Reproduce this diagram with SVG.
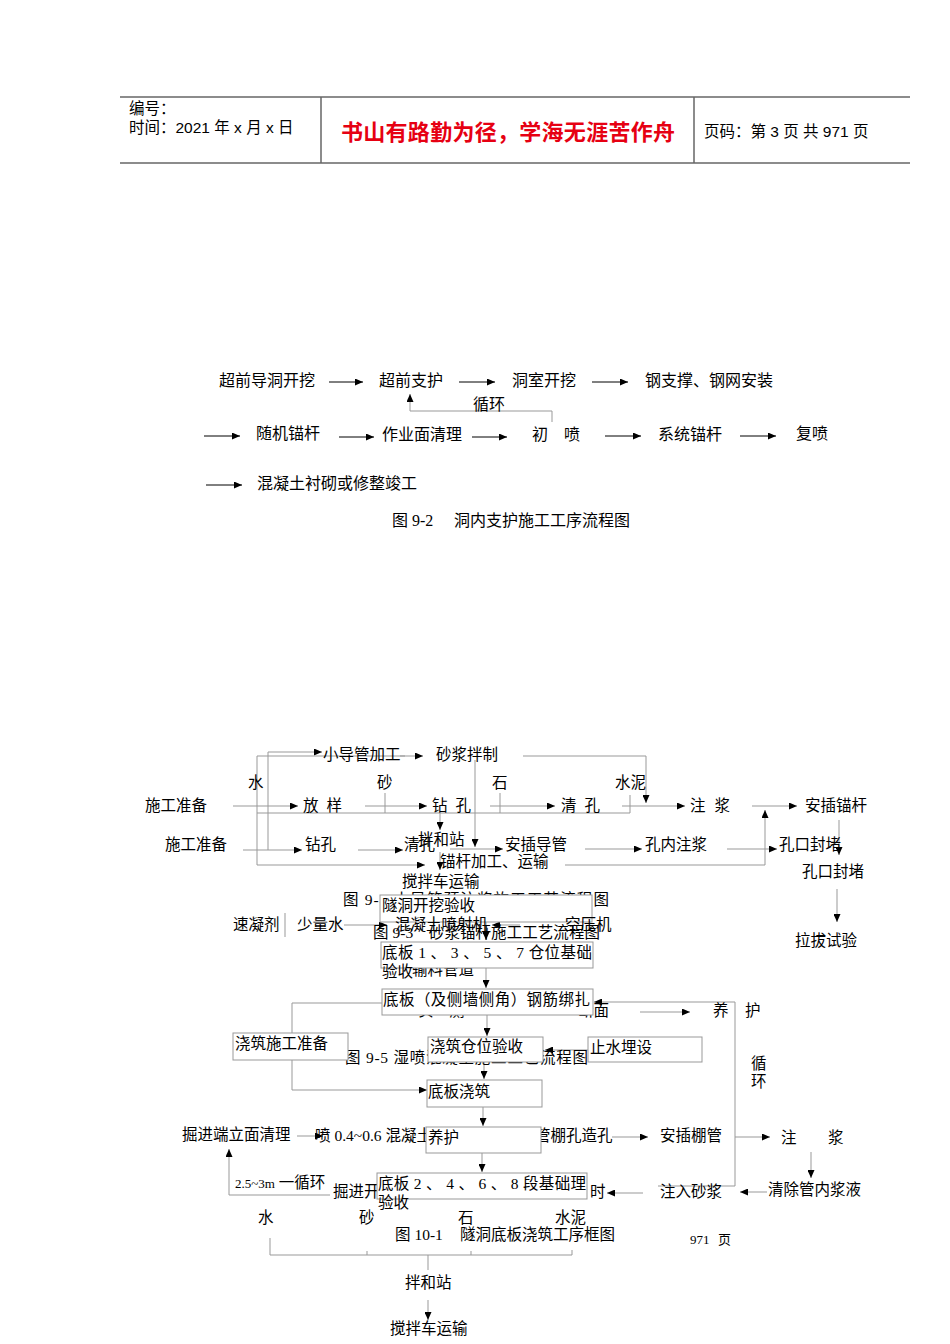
<svg xmlns="http://www.w3.org/2000/svg" width="950" height="1344" viewBox="0 0 950 1344">
<style>
.t{font-family:"Liberation Serif","Noto Sans CJK SC",serif;font-size:15.5px;fill:#000}
.f2{font-size:16px}
.s{font-size:13px}
.h{font-family:"Liberation Sans","Noto Sans CJK SC",sans-serif;font-size:15.5px;fill:#000}
.r{font-family:"Liberation Sans","Noto Sans CJK SC",sans-serif;font-size:22px;font-weight:bold;fill:#e60012}
.hl{stroke:#666;stroke-width:1.5;fill:none}
.c{stroke:#999;stroke-width:1;fill:none}
.k{stroke:#000;stroke-width:1;fill:none}
.b{fill:#fff;stroke:#999;stroke-width:1}
</style>
<defs>
<marker id="a" markerWidth="8" markerHeight="7" refX="8" refY="3.5" orient="auto" markerUnits="userSpaceOnUse"><path d="M0,0 L8,3.5 L0,7 z" fill="#000"/></marker>
</defs>
<rect width="950" height="1344" fill="#fff"/>

<g id="header">
<line class="hl" x1="120" y1="97" x2="910" y2="97"/>
<line class="hl" x1="120" y1="163" x2="910" y2="163"/>
<line class="hl" x1="321" y1="97" x2="321" y2="163"/>
<line class="hl" x1="694" y1="97" x2="694" y2="163"/>
<text class="h" x="129" y="114">编号：</text>
<text class="h" x="129" y="133">时间：2021 年 x 月 x 日</text>
<text class="r" x="341" y="140" textLength="334">书山有路勤为径，学海无涯苦作舟</text>
<text class="h" x="704" y="137">页码：第 3 页 共 971 页</text>
</g>

<g id="connectors">
<!-- fig 9-2 -->
<line class="k" x1="329" y1="382" x2="363" y2="382" marker-end="url(#a)"/>
<line class="k" x1="459" y1="382" x2="495" y2="382" marker-end="url(#a)"/>
<line class="k" x1="592" y1="382" x2="628" y2="382" marker-end="url(#a)"/>
<path class="c" d="M552,422 V411 H410 V394" marker-end="url(#a)"/>
<line class="k" x1="204" y1="436" x2="240" y2="436" marker-end="url(#a)"/>
<line class="k" x1="339" y1="437" x2="374" y2="437" marker-end="url(#a)"/>
<line class="k" x1="472" y1="437" x2="507" y2="437" marker-end="url(#a)"/>
<line class="k" x1="605" y1="436" x2="641" y2="436" marker-end="url(#a)"/>
<line class="k" x1="740" y1="436" x2="776" y2="436" marker-end="url(#a)"/>
<line class="k" x1="206" y1="485" x2="242" y2="485" marker-end="url(#a)"/>

<!-- fig 9-3 / 9-4 -->
<path class="c" d="M268,850 V752 H322" marker-end="url(#a)"/>
<path class="c" d="M257,865 V756 H405"/>
<line class="c" x1="400" y1="756" x2="423" y2="756" marker-end="url(#a)"/>
<path class="c" d="M523,756 H646 V803" marker-end="url(#a)"/>
<line class="c" x1="475" y1="760" x2="475" y2="847" marker-end="url(#a)"/>
<path class="c" d="M257,813 H630 V795"/>
<line class="c" x1="385" y1="793" x2="385" y2="813"/>
<line class="c" x1="500" y1="793" x2="500" y2="813"/>
<line class="c" x1="233" y1="806" x2="298" y2="806" marker-end="url(#a)"/>
<line class="c" x1="365" y1="806" x2="427" y2="806" marker-end="url(#a)"/>
<line class="c" x1="490" y1="806" x2="555" y2="806" marker-end="url(#a)"/>
<line class="c" x1="622" y1="806" x2="685" y2="806" marker-end="url(#a)"/>
<line class="c" x1="752" y1="806" x2="797" y2="806" marker-end="url(#a)"/>
<path class="c" d="M565,865 H765 V810" marker-end="url(#a)"/>
<line class="c" x1="839" y1="820" x2="839" y2="855" marker-end="url(#a)"/>
<line class="c" x1="837" y1="889" x2="837" y2="922" marker-end="url(#a)"/>
<line class="c" x1="243" y1="850" x2="302" y2="850" marker-end="url(#a)"/>
<line class="c" x1="358" y1="850" x2="403" y2="850" marker-end="url(#a)"/>
<line class="c" x1="440" y1="813" x2="440" y2="830" marker-end="url(#a)"/>
<line class="c" x1="450" y1="849" x2="503" y2="849" marker-end="url(#a)"/>
<line class="c" x1="585" y1="849" x2="642" y2="849" marker-end="url(#a)"/>
<line class="c" x1="727" y1="849" x2="777" y2="849" marker-end="url(#a)"/>
<line class="c" x1="257" y1="865" x2="425" y2="865" marker-end="url(#a)"/>
<line class="c" x1="440" y1="852" x2="440" y2="870" marker-end="url(#a)"/>

<!-- fig 9-5 -->
<line class="c" x1="285" y1="913" x2="285" y2="937"/>
<line class="c" x1="344" y1="925" x2="387" y2="925" marker-end="url(#a)"/>
<line class="c" x1="520" y1="925" x2="492" y2="925" marker-end="url(#a)"/>
<line class="c" x1="486" y1="922" x2="486" y2="940" marker-end="url(#a)"/>
<line class="c" x1="486" y1="968" x2="486" y2="988" marker-end="url(#a)"/>

<!-- fig 10-1 -->
<path class="c" d="M658,1186 H735 V1002 H594" marker-end="url(#a)"/>
<line class="c" x1="640" y1="1012" x2="690" y2="1012" marker-end="url(#a)"/>
<path class="c" d="M292,1033 V1003 H382"/>
<path class="c" d="M292,1060 V1090 H427" marker-end="url(#a)"/>
<line class="c" x1="487" y1="1015" x2="487" y2="1036" marker-end="url(#a)"/>
<line class="c" x1="484" y1="1062" x2="484" y2="1079" marker-end="url(#a)"/>
<line class="c" x1="588" y1="1050" x2="545" y2="1050" marker-end="url(#a)"/>
<line class="c" x1="483" y1="1107" x2="483" y2="1126" marker-end="url(#a)"/>
<line class="c" x1="482" y1="1153" x2="482" y2="1172" marker-end="url(#a)"/>
<line class="c" x1="297" y1="1136" x2="323" y2="1136" marker-end="url(#a)"/>
<line class="c" x1="612" y1="1137" x2="648" y2="1137" marker-end="url(#a)"/>
<line class="c" x1="735" y1="1137" x2="770" y2="1137" marker-end="url(#a)"/>
<line class="c" x1="811" y1="1152" x2="811" y2="1178" marker-end="url(#a)"/>
<line class="c" x1="767" y1="1192" x2="740" y2="1192" marker-end="url(#a)"/>
<line class="c" x1="643" y1="1193" x2="607" y2="1193" marker-end="url(#a)"/>
<path class="c" d="M330,1195 H229 V1149" marker-end="url(#a)"/>
<path class="c" d="M270,1238 V1255 H572 V1250"/>
<line class="c" x1="367" y1="1251" x2="367" y2="1255"/>
<line class="c" x1="471" y1="1251" x2="471" y2="1255"/>
<line class="c" x1="428" y1="1255" x2="428" y2="1270"/>
<line class="c" x1="428" y1="1300" x2="428" y2="1320" marker-end="url(#a)"/>
</g>

<g id="fig9-2">
<text class="t f2" x="219" y="386">超前导洞开挖</text>
<text class="t f2" x="379" y="386">超前支护</text>
<text class="t f2" x="512" y="386">洞室开挖</text>
<text class="t f2" x="645" y="386">钢支撑、钢网安装</text>
<text class="t f2" x="473" y="410">循环</text>
<text class="t f2" x="256" y="439">随机锚杆</text>
<text class="t f2" x="382" y="440">作业面清理</text>
<text class="t f2" x="532" y="440">初　喷</text>
<text class="t f2" x="658" y="440">系统锚杆</text>
<text class="t f2" x="796" y="439">复喷</text>
<text class="t f2" x="257" y="489">混凝土衬砌或修整竣工</text>
<text class="t f2" x="392" y="526">图 9-2</text>
<text class="t f2" x="454" y="526">洞内支护施工工序流程图</text>
</g>

<g id="fig9-3">
<text class="t" x="323" y="760">小导管加工</text>
<text class="t" x="436" y="760">砂浆拌制</text>
<text class="t" x="248" y="788">水</text>
<text class="t" x="377" y="788">砂</text>
<text class="t" x="492" y="788">石</text>
<text class="t" x="615" y="788">水泥</text>
<text class="t" x="145" y="811">施工准备</text>
<text class="t" x="303" y="811" textLength="39">放 样</text>
<text class="t" x="432" y="811" textLength="39">钻 孔</text>
<text class="t" x="561" y="811" textLength="39">清 孔</text>
<text class="t" x="690" y="811" textLength="40">注 浆</text>
<text class="t" x="805" y="811">安插锚杆</text>
<text class="t" x="165" y="850">施工准备</text>
<text class="t" x="305" y="850">钻孔</text>
<text class="t" x="404" y="850">清孔</text>
<text class="t" x="418" y="845">拌和站</text>
<text class="t" x="505" y="850">安插导管</text>
<text class="t" x="645" y="850">孔内注浆</text>
<text class="t" x="779" y="850">孔口封堵</text>
<text class="t" x="440" y="867">锚杆加工、运输</text>
<text class="t" x="802" y="877">孔口封堵</text>
<text class="t" x="402" y="887">搅拌车运输</text>
<text class="t" x="795" y="946">拉拔试验</text>
<text class="t" x="343" y="905" textLength="266">图 9-4 小导管预注浆施工工艺流程图</text>
</g>

<g id="n-suidong">
<rect class="b" x="380" y="895" width="212" height="27"/>
<text class="t" x="382" y="911">隧洞开挖验收</text>
</g>

<g id="fig9-5">
<text class="t" x="233" y="930">速凝剂</text>
<text class="t" x="297" y="930">少量水</text>
<text class="t" x="395" y="930">混凝土喷射机</text>
<text class="t" x="565" y="930">空压机</text>
<text class="t" x="373" y="938" textLength="227">图 9-3　砂浆锚杆施工工艺流程图</text>
<text class="t" x="412" y="975">输料管道</text>
</g>

<g id="n-diban1">
<rect class="b" x="381" y="942" width="212" height="26"/>
<text class="t" x="382" y="958" textLength="210">底板 1 、 3 、 5 、 7 仓位基础</text>
<text class="t" x="382" y="977">验收</text>
</g>

<g id="fig10-1-top">
<text class="t" x="418" y="1016">实　测</text>
<text class="t" x="578" y="1016">断面</text>
</g>

<g id="n-gangjin">
<rect class="b" x="382" y="989" width="211" height="26"/>
<text class="t" x="383" y="1005" textLength="207">底板（及侧墙侧角）钢筋绑扎</text>
</g>

<g id="labels-yanghu">
<text class="t" x="713" y="1016">养</text>
<text class="t" x="745" y="1016">护</text>
<text class="t" x="751" y="1069">循</text>
<text class="t" x="751" y="1087">环</text>
<text class="t" x="345" y="1063" textLength="243">图 9-5 湿喷混凝土施工工艺流程图</text>
</g>

<g id="n-jiaozhu-prep">
<rect class="b" x="233" y="1033" width="115" height="27"/>
<text class="t" x="235" y="1049">浇筑施工准备</text>
</g>
<g id="n-cangwei">
<rect class="b" x="428" y="1037" width="115" height="25"/>
<text class="t" x="430" y="1052">浇筑仓位验收</text>
</g>
<g id="n-zhishui">
<rect class="b" x="588" y="1037" width="114" height="25"/>
<text class="t" x="590" y="1053">止水埋设</text>
</g>
<g id="n-dibanjiaozhu">
<rect class="b" x="427" y="1080" width="115" height="27"/>
<text class="t" x="428" y="1097">底板浇筑</text>
</g>

<g id="row-guanpeng">
<text class="t" x="182" y="1140">掘进端立面清理</text>
<text class="t" x="315" y="1141">喷 0.4~0.6 混凝土</text>
<text class="t" x="535" y="1141">管棚孔造孔</text>
</g>

<g id="n-yanghu">
<rect class="b" x="426" y="1127" width="115" height="26"/>
<text class="t" x="428" y="1143">养护</text>
</g>

<g id="row-zhujiang">
<text class="t" x="660" y="1141">安插棚管</text>
<text class="t" x="781" y="1143">注</text>
<text class="t" x="828" y="1143">浆</text>
<text class="t" x="768" y="1195">清除管内浆液</text>
<text class="t" x="660" y="1197">注入砂浆</text>
<text class="t" x="235" y="1188"><tspan class="s">2.5~3m</tspan> 一循环</text>
<text class="t" x="333" y="1197">掘进开</text>
<text class="t" x="590" y="1197">时</text>
</g>

<g id="n-diban2">
<rect class="b" x="377" y="1173" width="210" height="26"/>
<text class="t" x="378" y="1189" textLength="208">底板 2 、 4 、 6 、 8 段基础理</text>
<text class="t" x="378" y="1208">验收</text>
</g>

<g id="fig10-1-bottom">
<text class="t" x="258" y="1223">水</text>
<text class="t" x="359" y="1223">砂</text>
<text class="t" x="458" y="1223">石</text>
<text class="t" x="555" y="1223">水泥</text>
<text class="t" x="395" y="1240">图 10-1</text>
<text class="t" x="460" y="1240">隧洞底板浇筑工序框图</text>
<text class="t s" x="690" y="1244">971</text>
<text class="t s" x="718" y="1244">页</text>
<text class="t" x="405" y="1288">拌和站</text>
<text class="t" x="390" y="1334">搅拌车运输</text>
</g>
</svg>
